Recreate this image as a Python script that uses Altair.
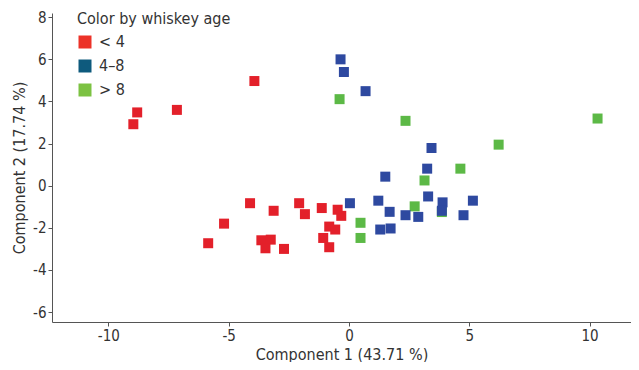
import altair as alt
import pandas as pd

# Component scores
red_x = [-8.96, -8.80, -7.15, -5.19, -5.85, -3.93, -4.11, -3.13, -2.07, -1.83, -1.13,
         -0.47, -0.32, -0.82, -0.57, -1.07, -0.82, -3.64, -3.25, -3.47, -2.70]
red_y = [2.92, 3.48, 3.60, -1.80, -2.73, 4.97, -0.83, -1.19, -0.83, -1.35, -1.06,
         -1.14, -1.43, -1.94, -2.08, -2.48, -2.92, -2.59, -2.56, -2.97, -3.00]
green_x = [-0.39, 2.35, 0.48, 0.48, 2.73, 3.14, 10.33, 6.22, 4.63, 3.86]
green_y = [4.11, 3.08, -1.76, -2.48, -0.98, 0.25, 3.19, 1.95, 0.81, -1.25]
blue_x = [-0.35, -0.21, 0.69, 0.04, 1.22, 1.51, 1.69, 1.30, 1.73, 2.35, 2.88, 3.25,
          3.29, 3.43, 3.89, 5.15, 3.86, 4.76]
blue_y = [6.00, 5.40, 4.49, -0.83, -0.71, 0.43, -1.24, -2.08, -2.03, -1.40, -1.48, 0.81,
          -0.51, 1.79, -0.79, -0.71, -1.19, -1.40]

categories = ["< 4", "4\u20138", "> 8"]
point_colors = ["#e3202a", "#2e49a0", "#5cb946"]
legend_colors = ["#ec3228", "#0e5a7d", "#7cc242"]
x_ticks = [-10, -5, 0, 5, 10]
y_ticks = [-6, -4, -2, 0, 2, 4, 6, 8]

rows = []
for x, y in zip(red_x, red_y):
    rows.append({"c1": x, "c2": y, "age": categories[0], "o": 0})
for x, y in zip(green_x, green_y):
    rows.append({"c1": x, "c2": y, "age": categories[2], "o": 1})
for x, y in zip(blue_x, blue_y):
    rows.append({"c1": x, "c2": y, "age": categories[1], "o": 2})
df = pd.DataFrame(rows)

FONT = "'DejaVu Sans Condensed', 'Roboto Condensed', 'Liberation Sans Narrow', Roboto, sans-serif"

x_enc = alt.X("c1:Q", title="Component 1 (43.71 %)",
              scale=alt.Scale(domain=[-12.34, 11.72], nice=False, zero=False),
              axis=alt.Axis(values=x_ticks, grid=False, tickSize=4, labelPadding=2,
                            titlePadding=3, labelExpr="datum.value"))
y_enc = alt.Y("c2:Q", title="Component 2 (17.74 %)",
              scale=alt.Scale(domain=[-6.47, 8.2], nice=False, zero=False),
              axis=alt.Axis(values=y_ticks, grid=False, tickSize=4, labelPadding=2,
                            titlePadding=5, labelExpr="datum.value"))

points = alt.Chart(df).mark_point(
    shape="square", filled=True, size=100, opacity=1
).encode(
    x=x_enc, y=y_enc,
    color=alt.Color("age:N", scale=alt.Scale(domain=categories, range=point_colors),
                    legend=None),
    order=alt.Order("o:Q"),
)

legend_layer = alt.Chart(df).mark_point(
    shape="square", filled=True, size=0
).encode(
    x=alt.X("c1:Q"), y=alt.Y("c2:Q"),
    color=alt.Color("age:N", scale=alt.Scale(domain=categories, range=legend_colors),
                    legend=alt.Legend(title="Color by whiskey age", orient="none",
                                      legendX=25, legendY=-2, symbolType="square",
                                      symbolSize=169, symbolStrokeWidth=0,
                                      symbolOpacity=1,
                                      rowPadding=8, titlePadding=7,
                                      titleFontSize=16, labelFontSize=16,
                                      titleFontWeight="normal", labelOffset=6,
                                      titleColor="#333", labelColor="#333",
                                      titleFont=FONT, labelFont=FONT)),
)

chart = alt.layer(points, legend_layer).resolve_scale(color="independent").properties(
    width=579, height=309,
    autosize=alt.AutoSizeParams(type="none"),
    padding={"left": 44, "top": 5, "right": 0, "bottom": 40},
).configure_axis(
    domainColor="#555", tickColor="#555", labelColor="#333", titleColor="#333",
    labelFont=FONT, titleFont=FONT, labelFontSize=15, titleFontSize=16,
    titleFontWeight="normal",
).configure_view(stroke=None)

chart.save("out.html", embed_options={"renderer": "svg", "actions": False})
